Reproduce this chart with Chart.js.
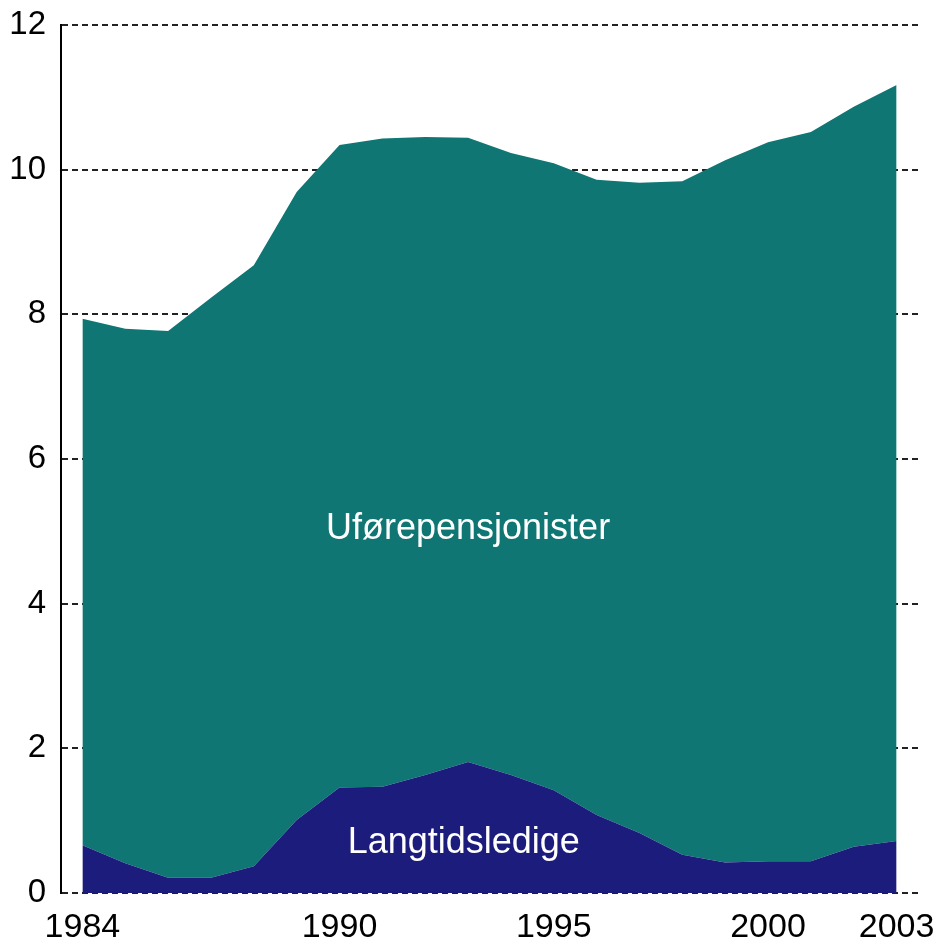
<!DOCTYPE html>
<html>
<head>
<meta charset="utf-8">
<script src="https://cdn.jsdelivr.net/npm/chart.js@4"></script>
<style>
  html, body { margin: 0; padding: 0; background: #fff; }
  #wrap { width: 940px; height: 943px; }
</style>
</head>
<body>
<div id="wrap"><canvas id="chart" width="940" height="943"></canvas></div>
<script>
  // År og verdier (prosent), lest av figuren
  const years = [1984, 1985, 1986, 1987, 1988, 1989, 1990, 1991, 1992, 1993,
                 1994, 1995, 1996, 1997, 1998, 1999, 2000, 2001, 2002, 2003];
  const langtidsledige = [0.66, 0.41, 0.21, 0.21, 0.37, 1.01, 1.46, 1.47, 1.63, 1.81,
                          1.63, 1.42, 1.08, 0.83, 0.53, 0.42, 0.44, 0.44, 0.64, 0.72];
  const uforepensjonister = [7.28, 7.39, 7.56, 8.02, 8.31, 8.68, 8.88, 8.96, 8.82, 8.63,
                             8.60, 8.67, 8.78, 8.99, 9.31, 9.71, 9.94, 10.08, 10.23, 10.45];
  const xTicks = [1984, 1990, 1995, 2000, 2003];
  const yTicks = [0, 2, 4, 6, 8, 10, 12];

  const FONT = "'Liberation Sans', Arial, sans-serif";

  // Tekstene inne i flatene
  const areaLabels = {
    id: 'areaLabels',
    afterDatasetsDraw(chart) {
      const { ctx, scales: { x, y } } = chart;
      ctx.save();
      ctx.fillStyle = '#ffffff';
      ctx.font = '36px ' + FONT;
      ctx.textAlign = 'center';
      ctx.textBaseline = 'middle';
      ctx.fillText('Uførepensjonister', x.getPixelForValue(1993.0), y.getPixelForValue(5.03));
      ctx.fillText('Langtidsledige', x.getPixelForValue(1992.9), y.getPixelForValue(0.69));
      ctx.restore();
    }
  };

  // ingen ekstra luft rundt aksene, plottflaten styres av layout.padding
  const noPad = s => { s.paddingLeft = 0; s.paddingRight = 0; s.paddingTop = 0; s.paddingBottom = 0; };

  new Chart(document.getElementById('chart'), {
    type: 'line',
    data: {
      labels: years,
      datasets: [
        {
          label: 'Langtidsledige',
          data: langtidsledige,
          backgroundColor: '#1c1c7c',
          borderWidth: 0,
          pointRadius: 0,
          fill: 'origin'
        },
        {
          label: 'Uførepensjonister',
          data: uforepensjonister,
          backgroundColor: '#0f7674',
          borderWidth: 0,
          pointRadius: 0,
          fill: '-1'
        }
      ]
    },
    options: {
      responsive: false,
      animation: false,
      layout: { padding: { top: 25, right: 22, left: 0, bottom: 0 } },
      plugins: { legend: { display: false }, tooltip: { enabled: false } },
      scales: {
        x: {
          type: 'linear',
          min: 1983.5,
          max: 2003.5,
          afterBuildTicks: s => { s.ticks = xTicks.map(v => ({ value: v })); },
          afterFit: s => { s.height = 50; noPad(s); },
          grid: { display: false },
          border: { display: false },
          ticks: {
            autoSkip: false,
            maxRotation: 0,
            padding: 6,
            color: '#000',
            font: { family: FONT, size: 34 },
            callback: v => String(v)
          }
        },
        y: {
          stacked: true,
          min: 0,
          max: 12,
          afterBuildTicks: s => { s.ticks = yTicks.map(v => ({ value: v })); },
          afterFit: s => { s.width = 61; noPad(s); },
          grid: { color: '#222', lineWidth: 2, drawTicks: false },
          border: { display: true, color: '#000', width: 2, dash: [6, 4] },
          ticks: {
            padding: 15,
            color: '#000',
            font: { family: FONT, size: 33 }
          }
        }
      }
    },
    plugins: [areaLabels]
  });
</script>
</body>
</html>
